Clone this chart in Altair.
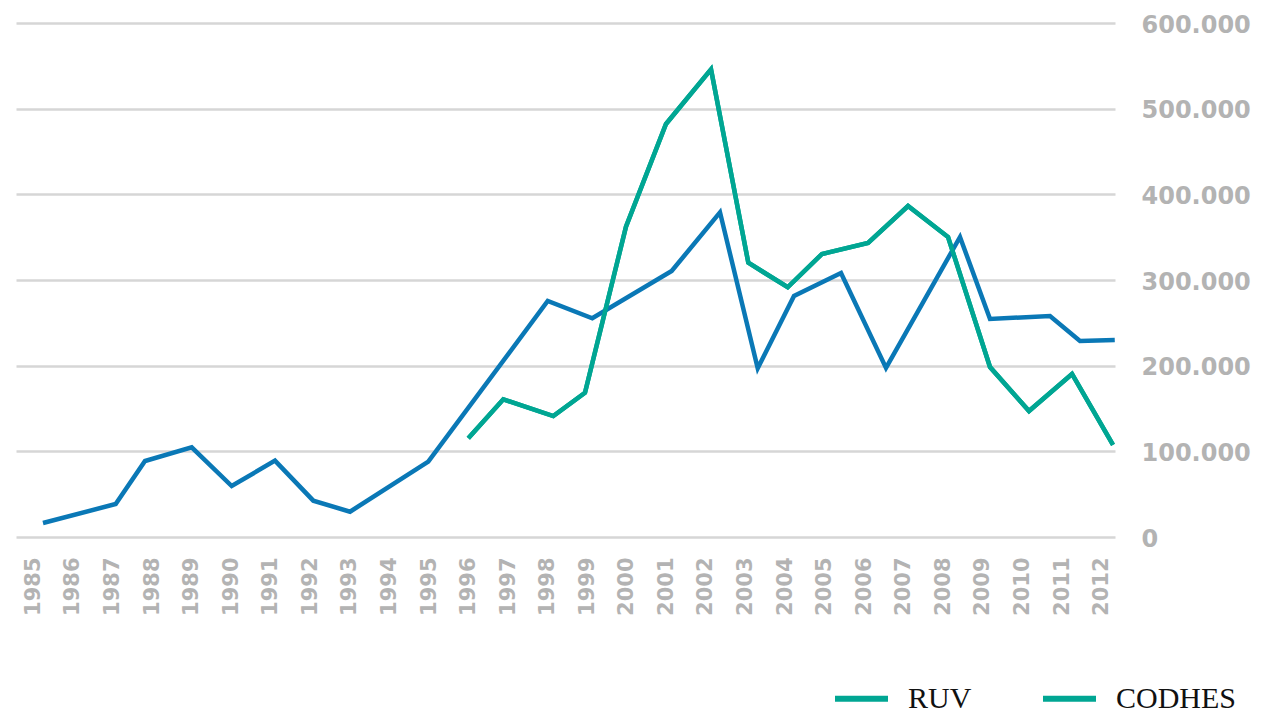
import altair as alt
import pandas as pd

# RUV series (x positions, in years)
ruv_year = [1985.245, 1987.082, 1987.823, 1989.003, 1990.014, 1991.108, 1992.076, 1993.004,
            1994.982, 1998.0, 1999.127, 2001.133, 2002.354, 2003.307, 2004.224, 2005.412,
            2006.549, 2008.419, 2009.177, 2010.693, 2011.451, 2012.33]
ruv_value = [16300, 38500, 88700, 104700, 59500, 89100, 42400, 29500,
             87900, 275500, 255300, 310500, 379000, 196900, 281300, 308200,
             197300, 350200, 254500, 258000, 228800, 230000]

# CODHES series
codhes_year = [1995.993, 1996.878, 1998.141, 1998.942, 1999.978, 2000.989, 2002.127, 2003.069,
               2004.065, 2004.932, 2006.095, 2007.106, 2008.117, 2009.177, 2010.163, 2011.25,
               2012.286]
codhes_value = [115200, 160700, 141200, 168400, 362200, 482100, 546000, 320200,
                291500, 330400, 343200, 386400, 350200, 198400, 147100, 190300,
                107400]

year_ticks = list(range(1985, 2013))
y_ticks = [0, 100000, 200000, 300000, 400000, 500000, 600000]

series = ["RUV", "CODHES"]
colors = ["#0a78b6", "#00a693"]
legend_colors = ["#00a693", "#00a693"]

df_ruv = pd.DataFrame({"year": ruv_year, "value": ruv_value, "serie": "RUV"})
df_cod = pd.DataFrame({"year": codhes_year, "value": codhes_value, "serie": "CODHES"})
df_all = pd.concat([df_ruv, df_cod], ignore_index=True)

x_enc = alt.X("year:Q",
              scale=alt.Scale(domain=[1984.563, 2012.336], nice=False, zero=False),
              axis=alt.Axis(values=year_ticks, format="d", labelAngle=270, title=None,
                            grid=False, domain=False, ticks=False, labelPadding=20,
                            labelFont="DejaVu Sans", labelFontWeight="bold", labelFontSize=21,
                            labelColor="#b3b3b3", labelOverlap=False, labelFlush=False))
y_enc = alt.Y("value:Q",
              scale=alt.Scale(domain=[0, 600000], nice=False),
              axis=alt.Axis(orient="right", values=y_ticks, title=None, domain=False,
                            ticks=False, labelPadding=26, grid=True, gridColor="#d6d6d6",
                            gridWidth=2.5, labelFont="DejaVu Sans", labelFontWeight="bold",
                            labelFontSize=24, labelColor="#b3b3b3", labelAlign="left",
                            labelBaseline="middle", labelFlush=False, labelOffset=2,
                            labelExpr="replace(format(datum.value, ',d'), ',', '.')"))
stroke_enc = alt.Stroke("serie:N", scale=alt.Scale(domain=series, range=colors), legend=None)
legend_enc = alt.Color("serie:N",
                       scale=alt.Scale(domain=series, range=legend_colors),
                       sort=series,
                       legend=alt.Legend(title=None, orient="none", direction="horizontal",
                                         legendX=816, legendY=646, padding=0,
                                         symbolType="stroke",
                                         symbolStrokeWidth=6, symbolSize=2809,
                                         symbolOpacity=1,
                                         labelFont="Liberation Serif", labelFontSize=30,
                                         labelColor="#111111", labelOffset=17,
                                         columnPadding=59, labelLimit=400))

# legend carrier: the CODHES line drawn underneath the real CODHES line (fully covered)
legend_layer = alt.Chart(df_cod).mark_line(strokeWidth=4.5).encode(
    x=x_enc, y=y_enc, color=legend_enc)
ruv_line = alt.Chart(df_ruv).mark_line(strokeWidth=4.5).encode(x=x_enc, y=y_enc, stroke=stroke_enc)
cod_line = alt.Chart(df_cod).mark_line(strokeWidth=4.5).encode(x=x_enc, y=y_enc, stroke=stroke_enc)

chart = alt.layer(legend_layer, ruv_line, cod_line).resolve_scale(
    color="independent", stroke="independent"
).properties(
    width=1099, height=514,
    padding={"left": 8, "top": 15, "right": 144, "bottom": 174},
    autosize=alt.AutoSizeParams(type="none"),
    background="white",
).configure_view(stroke=None)

chart.save("out.html", embed_options={"renderer": "svg", "actions": False})
